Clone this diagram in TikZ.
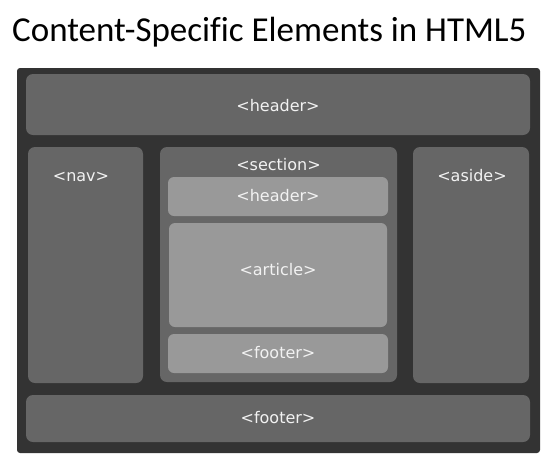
\documentclass[tikz,border=0pt]{standalone}
\usepackage{fontspec}
\setmainfont{DejaVu Sans}
\newfontfamily\titlefont[Ligatures=NoCommon]{Carlito}
\definecolor{bgdark}{HTML}{333333}
\definecolor{boxmid}{HTML}{666666}
\definecolor{boxlight}{HTML}{999999}
\definecolor{labeltxt}{HTML}{F2F2F2}
\begin{document}
\begin{tikzpicture}[x=1pt,y=-1pt,
  midbox/.style={fill=boxmid, rounded corners=7pt},
  lightbox/.style={fill=boxlight, rounded corners=6pt},
  lbl/.style={anchor=base, inner sep=0pt, text=labeltxt, font=\fontsize{16}{19}\selectfont}]
\useasboundingbox (0,0) rectangle (557,469);
\node[anchor=base west, inner sep=0pt, font=\titlefont\fontsize{35}{40}\selectfont] (title) at (12,41) {Content-Specific Elements in HTML5};
% frame
\fill[bgdark, rounded corners=3pt] (17,68) rectangle (540,453);
% outer boxes
\fill[midbox] (26,74) rectangle (530,135);
\fill[midbox] (28,147) rectangle (143,383);
\fill[midbox] (160,147) rectangle (397,382);
\fill[midbox] (413,147) rectangle (529,383);
\fill[midbox] (26,395) rectangle (530,442);
% inner boxes
\fill[lightbox] (168,177) rectangle (388,216);
\fill[lightbox] (169,223) rectangle (387,327);
\fill[lightbox] (168,334) rectangle (388,373);
% labels
\node[lbl] (header) at (278,111) {<header>};
\node[lbl] (nav) at (81,181) {<nav>};
\node[lbl] (section) at (278.5,170) {<section>};
\node[lbl] (aside) at (472,181) {<aside>};
\node[lbl] (iheader) at (278,201) {<header>};
\node[lbl] (article) at (278,275.5) {<article>};
\node[lbl] (ifooter) at (278,358) {<footer>};
\node[lbl] (footer) at (278,423) {<footer>};
\end{tikzpicture}
\end{document}
